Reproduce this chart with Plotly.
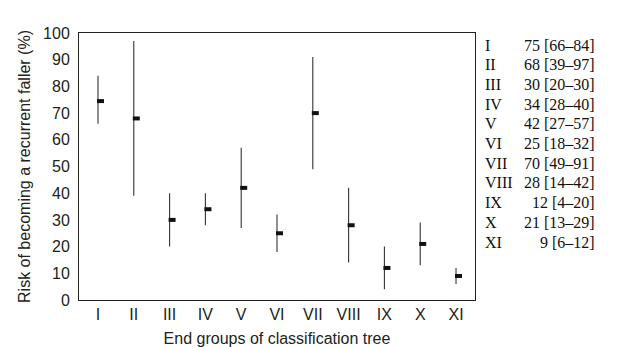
import plotly.graph_objects as go

groups = ["I", "II", "III", "IV", "V", "VI", "VII", "VIII", "IX", "X", "XI"]
risk = [74.5, 68, 30, 34, 42, 25, 70, 28, 12, 21, 9]
ci_low = [66, 39, 20, 28, 27, 18, 49, 14, 4, 13, 6]
ci_high = [84, 97, 40, 40, 57, 32, 91, 42, 20, 29, 12]
table_values = ["75 [66–84]", "68 [39–97]", "30 [20–30]", "34 [28–40]", "42 [27–57]",
                "25 [18–32]", "70 [49–91]", "28 [14–42]", "12 [4–20]", "21 [13–29]", "9 [6–12]"]
y_ticks = [0, 10, 20, 30, 40, 50, 60, 70, 80, 90, 100]

idx = list(range(len(groups)))
mid = [(lo + hi) / 2 for lo, hi in zip(ci_low, ci_high)]
half = [(hi - lo) / 2 for lo, hi in zip(ci_low, ci_high)]

fig = go.Figure()
# confidence interval lines
fig.add_trace(go.Scatter(
    x=idx, y=mid, mode="markers",
    marker=dict(size=1, color="rgba(0,0,0,0)"),
    error_y=dict(type="data", array=half, visible=True, width=0, thickness=1.1, color="#333"),
    showlegend=False, hoverinfo="skip"))
# point estimates
fig.add_trace(go.Scatter(
    x=[i + 0.07 for i in idx], y=risk, mode="markers",
    marker=dict(symbol="line-ew", size=5, line=dict(width=4, color="#111")),
    showlegend=False))

ann = []
for i, (g, v) in enumerate(zip(groups, table_values)):
    py = 37 + i * 19.7
    yp = (292 - py) / 267
    ann.append(dict(x=(475 - 71) / 396, y=yp, xref="paper", yref="paper", text=g,
                    showarrow=False, xanchor="left", yanchor="middle",
                    font=dict(family="Liberation Serif", size=16, color="#111")))
    ann.append(dict(x=(589 - 71) / 396, y=yp, xref="paper", yref="paper", text=v,
                    showarrow=False, xanchor="right", yanchor="middle",
                    font=dict(family="Liberation Serif", size=16, color="#111")))

fig.update_layout(
    width=640, height=347,
    margin=dict(l=71, r=173, t=25, b=55),
    paper_bgcolor="white", plot_bgcolor="white",
    font=dict(family="Liberation Sans", size=16, color="#222"),
    annotations=ann,
    xaxis=dict(range=[-0.53, 10.53], tickvals=idx, ticktext=groups,
               showgrid=False, zeroline=False, showline=True, mirror=True,
               linecolor="#222", linewidth=1, ticks="",
               title=dict(text="End groups of classification tree", standoff=10,
                          font=dict(size=16))),
    yaxis=dict(range=[0, 100], tickvals=y_ticks, showgrid=False, zeroline=False,
               showline=True, mirror=True, linecolor="#222", linewidth=1, ticks="",
               ticklabelstandoff=5,
               title=dict(text="Risk of becoming a recurrent faller (%)", standoff=8,
                          font=dict(size=16))),
)

fig.write_html("out.html")
